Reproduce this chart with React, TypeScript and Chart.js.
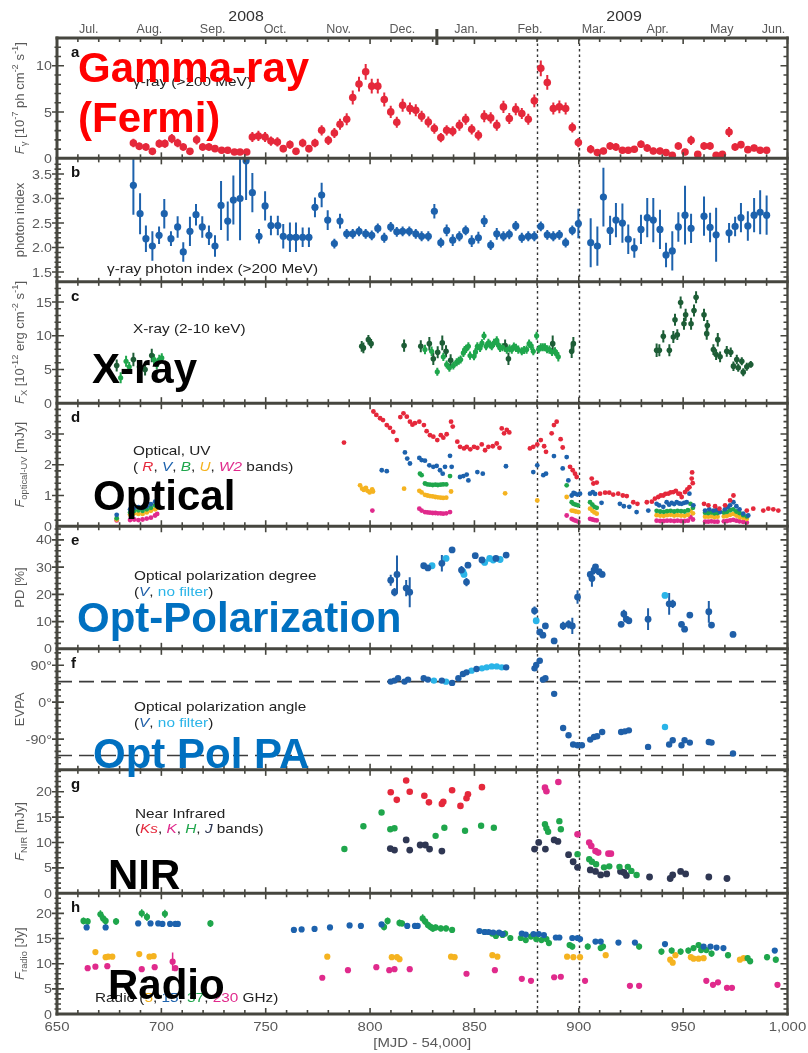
import { useEffect, useRef } from 'react';
import { Chart, registerables } from 'chart.js';

Chart.register(...registerables);

type Pt = [number, number, number?];

// ---------------- data: [MJD - 54000, value, error] ----------------

// a: gamma-ray flux (>200 MeV) [1e-7 ph cm^-2 s^-1]
const gammaFlux: Pt[] = [
  [686.6, 1.66, 0.45], [689.4, 1.3, 0.4], [692.6, 1.22, 0.4], [695.7, 0.76, 0.35], [699.0, 1.59, 0.45],
  [701.7, 1.59, 0.45], [705.0, 2.13, 0.5], [707.8, 1.66, 0.45], [710.5, 1.22, 0.4], [713.7, 0.76, 0.35],
  [716.9, 2.0, 0.5], [719.8, 1.22, 0.4], [722.8, 1.22, 0.4], [725.7, 1.05, 0.35], [728.9, 0.87, 0.35],
  [731.8, 0.87, 0.35], [735.0, 0.68, 0.3], [737.7, 0.68, 0.3], [740.9, 0.68, 0.3], [743.6, 2.31, 0.55],
  [746.5, 2.42, 0.55], [749.7, 2.31, 0.55], [752.5, 1.87, 0.5], [755.6, 1.77, 0.5], [758.4, 1.05, 0.4],
  [761.6, 1.48, 0.45], [764.5, 0.76, 0.35], [767.7, 1.66, 0.45], [770.7, 1.05, 0.4], [773.6, 1.66, 0.45],
  [776.8, 3.03, 0.55], [780.0, 1.95, 0.5], [782.9, 2.74, 0.55], [785.6, 3.68, 0.6], [788.8, 4.23, 0.65],
  [791.7, 6.58, 0.75], [794.7, 8.02, 0.8], [797.9, 9.35, 0.85], [800.8, 7.8, 0.8], [803.7, 7.8, 0.8],
  [806.8, 6.36, 0.75], [809.9, 5.02, 0.65], [812.8, 3.9, 0.6], [815.6, 5.74, 0.7], [819.1, 5.38, 0.65],
  [821.9, 5.2, 0.65], [824.7, 4.55, 0.6], [827.9, 3.93, 0.6], [830.8, 3.22, 0.55], [833.9, 2.24, 0.5],
  [836.7, 3.03, 0.55], [839.6, 2.93, 0.55], [842.8, 3.58, 0.6], [845.8, 4.23, 0.6], [848.7, 3.14, 0.55],
  [851.9, 2.49, 0.55], [854.7, 4.55, 0.65], [857.8, 4.37, 0.6], [860.7, 3.58, 0.6], [863.9, 5.56, 0.65],
  [866.7, 4.3, 0.6], [869.8, 5.31, 0.65], [872.7, 4.84, 0.6], [875.8, 4.23, 0.6], [878.7, 6.21, 0.7],
  [881.8, 9.72, 0.85], [884.9, 8.2, 0.8], [887.8, 5.38, 0.65], [890.7, 5.56, 0.7], [893.7, 5.38, 0.65],
  [896.9, 3.33, 0.55], [899.8, 1.7, 0.5], [905.7, 0.98, 0.45], [908.9, 0.62, 0.35], [911.8, 0.79, 0.35],
  [915.0, 1.33, 0.4], [917.8, 1.22, 0.4], [920.9, 0.87, 0.35], [923.7, 0.87, 0.35], [926.6, 0.98, 0.35],
  [929.8, 1.52, 0.4], [932.8, 1.12, 0.4], [935.7, 0.79, 0.35], [938.9, 0.79, 0.35], [941.8, 0.62, 0.35],
  [944.8, 0.33, 0.3], [947.7, 1.33, 0.4], [950.9, 0.68, 0.35], [953.8, 1.95, 0.5], [957.0, 0.43, 0.3],
  [960.0, 1.33, 0.4], [962.9, 1.33, 0.4], [965.8, 0.33, 0.3], [968.8, 0.43, 0.3], [972.0, 2.85, 0.55],
  [974.9, 1.22, 0.4], [977.7, 1.48, 0.4], [981.0, 0.94, 0.35], [984.0, 1.12, 0.35], [986.9, 0.87, 0.35],
  [990.0, 0.87, 0.35],
];

// b: gamma-ray photon index (>200 MeV)
const gammaIndex: Pt[] = [
  [686.6, 3.27, 0.6], [689.8, 2.69, 0.42], [692.6, 2.18, 0.27], [695.7, 2.03, 0.3], [698.9, 2.25, 0.18],
  [701.4, 2.69, 0.3], [704.6, 2.18, 0.15], [707.8, 2.42, 0.22], [710.5, 1.91, 0.2], [713.7, 2.33, 0.3],
  [716.6, 2.67, 0.22], [719.6, 2.42, 0.22], [722.8, 2.25, 0.2], [725.7, 2.03, 0.22], [728.6, 2.86, 0.5],
  [731.8, 2.54, 0.4], [734.5, 2.97, 0.5], [737.7, 3.0, 0.85], [740.6, 3.77, 0.8], [743.6, 3.12, 0.4],
  [746.8, 2.23, 0.15], [749.7, 2.85, 0.3], [752.5, 2.45, 0.2], [755.8, 2.45, 0.2], [758.4, 2.23, 0.25],
  [761.6, 2.21, 0.3], [764.5, 2.21, 0.3], [767.7, 2.21, 0.2], [770.7, 2.21, 0.2], [773.6, 2.82, 0.2],
  [776.8, 3.07, 0.25], [779.7, 2.56, 0.2], [782.9, 2.08, 0.1], [785.6, 2.54, 0.15], [788.8, 2.28, 0.1],
  [791.7, 2.28, 0.1], [794.7, 2.33, 0.1], [797.9, 2.28, 0.1], [800.8, 2.25, 0.1], [803.7, 2.39, 0.1],
  [806.8, 2.2, 0.1], [809.9, 2.42, 0.1], [812.8, 2.32, 0.1], [815.6, 2.33, 0.1], [818.8, 2.33, 0.1],
  [821.9, 2.28, 0.1], [824.7, 2.23, 0.1], [827.9, 2.23, 0.1], [830.8, 2.74, 0.15], [833.9, 2.1, 0.1],
  [836.7, 2.35, 0.12], [839.6, 2.15, 0.12], [842.8, 2.23, 0.1], [845.8, 2.35, 0.1], [848.7, 2.13, 0.12],
  [851.9, 2.2, 0.12], [854.7, 2.54, 0.12], [857.8, 2.05, 0.1], [860.7, 2.28, 0.12], [863.9, 2.23, 0.1],
  [866.7, 2.27, 0.1], [869.8, 2.44, 0.1], [872.7, 2.2, 0.1], [875.8, 2.23, 0.1], [878.7, 2.23, 0.1],
  [881.8, 2.43, 0.1], [884.9, 2.26, 0.1], [887.8, 2.23, 0.1], [890.7, 2.26, 0.1], [893.7, 2.1, 0.1],
  [896.9, 2.35, 0.1], [899.8, 2.49, 0.3], [905.7, 2.1, 0.5], [908.9, 2.03, 0.4], [911.8, 3.03, 0.6],
  [915.0, 2.35, 0.3], [917.8, 2.56, 0.35], [920.9, 2.5, 0.4], [923.7, 2.17, 0.3], [926.6, 1.99, 0.2],
  [929.8, 2.37, 0.3], [932.8, 2.61, 0.4], [935.7, 2.56, 0.45], [938.9, 2.37, 0.4], [941.8, 1.85, 0.25],
  [944.8, 1.93, 0.4], [947.7, 2.42, 0.3], [950.9, 2.66, 0.6], [953.8, 2.39, 0.3], [960.0, 2.64, 0.4],
  [962.9, 2.41, 0.3], [965.8, 2.26, 0.55], [972.0, 2.3, 0.2], [974.9, 2.43, 0.2], [977.7, 2.61, 0.3],
  [981.0, 2.44, 0.3], [984.0, 2.66, 0.35], [986.9, 2.72, 0.45], [990.0, 2.66, 0.4],
];

// c: X-ray flux (2-10 keV) [1e-12 erg cm^-2 s^-1], two instruments
const xrayDark: Pt[] = [
  [678.6, 5.59, 0.9], [686.6, 6.47, 1.0], [692.2, 5.0, 0.9], [695.4, 7.06, 1.0], [796.0, 8.44, 0.8],
  [796.8, 8.2, 0.8], [799.2, 9.42, 0.7], [800.5, 8.83, 0.7], [816.3, 8.54, 0.9], [824.3, 8.44, 0.9],
  [828.4, 8.83, 1.0], [830.3, 6.58, 0.9], [832.4, 7.55, 0.9], [834.6, 8.94, 1.1], [836.4, 7.7, 0.9],
  [838.6, 6.37, 0.9], [864.7, 8.54, 0.9], [866.3, 6.58, 0.9], [887.5, 8.83, 1.2], [896.6, 7.7, 1.0],
  [897.4, 8.83, 1.0], [937.3, 7.85, 1.0], [938.6, 7.85, 0.9], [940.5, 9.91, 0.9], [943.4, 7.85, 0.9],
  [945.3, 9.82, 0.9], [946.1, 12.37, 0.9], [947.2, 10.16, 0.8], [948.8, 14.93, 0.9], [950.4, 11.78, 0.9],
  [951.2, 13.1, 0.9], [953.8, 11.78, 0.9], [955.2, 13.75, 0.9], [956.2, 15.72, 0.9], [960.0, 13.1, 0.9],
  [961.3, 10.31, 0.9], [961.6, 11.53, 0.8], [964.5, 7.95, 0.8], [965.8, 7.21, 0.8], [966.6, 9.42, 1.0],
  [967.7, 6.87, 0.8], [970.9, 7.7, 0.8], [972.8, 7.55, 0.7], [974.1, 5.49, 0.7], [975.7, 6.47, 0.7],
  [976.4, 5.25, 0.6], [978.1, 6.22, 0.6], [978.8, 4.6, 0.6], [980.5, 5.4, 0.6], [982.4, 5.74, 0.5],
];
const xrayLight: Pt[] = [
  [680.5, 3.77, 0.8], [683.1, 6.22, 0.8], [684.6, 5.4, 0.7], [689.4, 5.4, 0.8], [696.5, 6.47, 0.8],
  [697.8, 5.74, 0.7], [699.0, 6.47, 0.7], [700.2, 6.72, 0.7], [826.3, 7.95, 0.7], [829.5, 7.7, 0.7],
  [832.2, 4.66, 0.6], [835.1, 6.87, 0.6], [836.7, 5.74, 0.6], [838.0, 5.25, 0.6], [839.9, 5.59, 0.6],
  [841.5, 6.08, 0.6], [842.5, 6.3, 0.6], [843.4, 6.47, 0.6], [844.7, 7.46, 0.6], [845.3, 7.9, 0.6],
  [846.0, 8.05, 0.6], [847.1, 8.44, 0.6], [847.9, 7.06, 0.6], [849.8, 6.96, 0.6], [850.5, 7.6, 0.6],
  [851.4, 8.44, 0.6], [852.7, 8.2, 0.6], [853.6, 8.9, 0.6], [854.6, 10.0, 0.6], [855.6, 8.44, 0.6],
  [856.7, 8.94, 0.6], [857.5, 8.7, 0.6], [858.3, 8.44, 0.6], [859.4, 8.94, 0.6], [860.7, 9.32, 0.6],
  [861.5, 8.6, 0.6], [862.3, 8.2, 0.6], [863.5, 8.3, 0.6], [865.5, 7.95, 0.6], [866.8, 8.1, 0.6],
  [867.9, 7.95, 0.6], [868.9, 8.4, 0.6], [869.9, 8.2, 0.6], [871.0, 7.95, 0.6], [872.7, 7.7, 0.6],
  [873.8, 7.9, 0.6], [875.0, 7.95, 0.6], [876.2, 8.83, 0.6], [877.2, 8.5, 0.6], [878.2, 7.7, 0.6],
  [879.8, 10.0, 0.6], [880.8, 8.0, 0.6], [881.8, 8.29, 0.6], [882.8, 8.3, 0.6], [883.8, 8.29, 0.6],
  [884.8, 8.0, 0.6], [885.9, 7.95, 0.6], [887.2, 7.6, 0.6], [888.6, 7.7, 0.6], [889.4, 7.3, 0.6],
  [890.2, 6.87, 0.7],
];

// d: optical / UV flux densities [mJy]
const optR: Pt[] = [
  [787.5, 2.72], [801.6, 3.73], [803.0, 3.62], [804.8, 3.51], [806.2, 3.45], [808.0, 3.29], [809.5, 3.2],
  [811.1, 3.07], [812.8, 2.8], [814.5, 3.55], [816.0, 3.67], [817.6, 3.56], [819.1, 3.4], [820.3, 3.3],
  [821.5, 3.35], [823.6, 3.4], [825.8, 3.29], [827.1, 3.09], [828.7, 2.96], [830.3, 2.91], [832.2, 2.8],
  [833.9, 2.96], [835.1, 2.88], [836.7, 2.99], [838.8, 3.4], [839.6, 3.24], [841.8, 2.75], [843.1, 2.58],
  [845.0, 2.53], [846.3, 2.58], [848.0, 2.5], [849.8, 2.58], [851.4, 2.55], [853.5, 2.66], [855.1, 2.47],
  [856.7, 2.58], [858.8, 2.6], [860.7, 2.69], [862.0, 2.55], [863.1, 3.18], [864.2, 3.02], [865.5, 3.13],
  [866.7, 3.05], [876.6, 2.53], [878.2, 2.58], [880.1, 2.66], [881.8, 2.8], [883.4, 2.6], [884.3, 2.42],
  [887.0, 3.02], [888.1, 3.29], [889.4, 3.4], [891.3, 2.83], [892.3, 2.56], [895.8, 1.93], [897.1, 1.82],
  [898.2, 1.71], [899.0, 1.6], [906.2, 1.55], [907.0, 1.39], [908.6, 1.42], [910.2, 1.06], [912.6, 1.09],
  [914.6, 1.09], [916.5, 1.03], [918.9, 1.06], [921.1, 1.0], [923.0, 0.98], [926.1, 0.78], [928.1, 0.73],
  [932.6, 0.78], [935.0, 0.8], [936.5, 0.9], [938.1, 0.95], [939.3, 1.0], [940.5, 1.0], [941.5, 1.05],
  [942.9, 1.06], [944.0, 1.1], [945.3, 1.11], [946.5, 1.15], [947.7, 1.06], [948.5, 1.05], [949.3, 0.95],
  [950.9, 1.11], [952.0, 1.2], [953.0, 1.27], [954.1, 1.55], [954.3, 1.75], [954.6, 1.4], [960.0, 0.73],
  [962.1, 0.68], [965.3, 0.65], [967.4, 0.57], [970.1, 0.68], [972.5, 0.84], [974.1, 1.0], [980.5, 0.51],
  [983.6, 0.57], [988.4, 0.51], [990.8, 0.57], [993.2, 0.55], [995.6, 0.51],
];
const optV: Pt[] = [
  [678.6, 0.37], [685.0, 0.55], [687.0, 0.6], [689.0, 0.62], [691.0, 0.6], [693.0, 0.65], [695.0, 0.72],
  [697.0, 0.8], [698.0, 0.85], [805.6, 1.82], [808.0, 1.79], [816.7, 2.4], [817.8, 2.2], [819.1, 2.04],
  [823.6, 2.22], [824.7, 2.15], [826.3, 2.13], [828.4, 1.98], [830.3, 1.93], [831.9, 1.96], [833.5, 1.82],
  [834.8, 1.71], [835.9, 1.93], [838.3, 2.29], [839.1, 1.93], [843.1, 1.6], [844.7, 1.63], [846.3, 1.68],
  [847.1, 1.49], [851.4, 1.76], [854.0, 1.71], [865.1, 1.95], [878.2, 1.76], [880.1, 1.98], [883.0, 1.66],
  [884.3, 1.71], [888.1, 2.28], [892.3, 1.88], [894.2, 2.25], [895.0, 1.49], [896.6, 1.0], [897.5, 1.08],
  [898.2, 1.06], [899.3, 1.03], [900.6, 1.06], [905.4, 1.06], [906.7, 1.11], [907.8, 1.05], [910.9, 0.76],
  [919.7, 0.73], [921.6, 0.65], [924.2, 0.63], [927.7, 0.46], [933.3, 0.51], [937.3, 0.73], [938.5, 0.68],
  [940.5, 0.63], [942.1, 0.78], [943.3, 0.7], [944.5, 0.76], [945.7, 0.72], [946.9, 0.78], [948.1, 0.74],
  [949.3, 0.73], [950.5, 0.76], [951.7, 0.78], [953.0, 1.06], [954.9, 0.68], [960.5, 0.51], [962.5, 0.55],
  [964.5, 0.51], [966.0, 0.53], [967.7, 0.46], [970.0, 0.55], [971.3, 0.62], [972.5, 0.68], [974.1, 0.78],
  [975.5, 0.65], [977.0, 0.55], [978.8, 0.41], [981.2, 0.35],
];
const optB: Pt[] = [
  [678.6, 0.26], [685.0, 0.45], [687.0, 0.5], [689.0, 0.52], [691.0, 0.5], [693.0, 0.55], [695.0, 0.6],
  [697.0, 0.68], [698.0, 0.72], [823.9, 1.71], [824.7, 1.66], [826.3, 1.39], [827.5, 1.36], [828.7, 1.35],
  [830.0, 1.34], [831.3, 1.35], [832.5, 1.34], [833.8, 1.35], [835.0, 1.36], [836.5, 1.36], [838.3, 1.63],
  [894.2, 1.33], [896.6, 0.78], [897.4, 0.73], [898.5, 0.7], [899.6, 0.68], [905.4, 0.78], [906.5, 0.7],
  [907.5, 0.63], [908.6, 0.6], [937.3, 0.5], [939.0, 0.48], [940.7, 0.47], [942.3, 0.49], [944.0, 0.5],
  [945.7, 0.48], [947.3, 0.5], [949.0, 0.49], [950.7, 0.48], [952.3, 0.52], [953.5, 0.73], [954.7, 0.6],
  [960.5, 0.44], [962.0, 0.43], [963.5, 0.45], [965.0, 0.42], [966.5, 0.43], [969.5, 0.45], [971.0, 0.47],
  [972.5, 0.52], [974.0, 0.55], [975.5, 0.48], [977.0, 0.43], [978.8, 0.36], [980.5, 0.32],
];
const optU: Pt[] = [
  [678.6, 0.22], [685.0, 0.38], [687.0, 0.42], [689.0, 0.4], [691.0, 0.4], [693.0, 0.45], [695.0, 0.5],
  [697.0, 0.55], [698.0, 0.6], [795.2, 1.33], [796.2, 1.22], [797.0, 1.18], [798.0, 1.25], [798.8, 1.15],
  [799.8, 1.1], [801.0, 1.2], [801.4, 1.13], [816.3, 1.22], [823.6, 1.15], [824.7, 1.1], [826.3, 1.02],
  [827.5, 1.0], [828.7, 0.98], [830.0, 0.97], [831.3, 0.95], [832.5, 0.94], [833.8, 0.93], [835.0, 0.92],
  [836.5, 0.93], [838.8, 1.13], [864.7, 1.07], [880.1, 0.84], [894.2, 0.95], [896.6, 0.51], [897.5, 0.5],
  [898.5, 0.48], [899.8, 0.46], [905.4, 0.57], [906.5, 0.5], [907.5, 0.45], [908.6, 0.41], [937.3, 0.36],
  [939.0, 0.35], [940.7, 0.34], [942.3, 0.36], [944.0, 0.37], [945.7, 0.35], [947.3, 0.36], [949.0, 0.35],
  [950.7, 0.34], [952.3, 0.37], [953.5, 0.5], [954.7, 0.42], [960.5, 0.31], [962.0, 0.31], [963.5, 0.32],
  [965.0, 0.3], [966.5, 0.31], [969.5, 0.32], [971.0, 0.34], [972.5, 0.37], [974.0, 0.4], [975.5, 0.35],
  [977.0, 0.3], [978.8, 0.27], [980.5, 0.24],
];
const optW2: Pt[] = [
  [678.6, 0.19], [685.0, 0.2], [687.0, 0.22], [689.0, 0.2], [691.0, 0.22], [693.0, 0.25], [695.0, 0.28],
  [697.0, 0.35], [698.0, 0.4], [801.1, 0.51], [823.6, 0.57], [824.7, 0.51], [826.3, 0.46], [827.5, 0.45],
  [828.7, 0.44], [830.0, 0.43], [831.3, 0.43], [832.5, 0.42], [833.8, 0.42], [835.0, 0.41], [836.5, 0.42],
  [838.3, 0.46], [894.2, 0.35], [896.6, 0.24], [897.5, 0.21], [898.5, 0.18], [899.8, 0.15], [905.4, 0.24],
  [906.5, 0.22], [907.5, 0.2], [908.6, 0.19], [937.3, 0.18], [939.0, 0.17], [940.7, 0.17], [942.3, 0.18],
  [944.0, 0.18], [945.7, 0.17], [947.3, 0.18], [949.0, 0.17], [950.7, 0.17], [952.3, 0.18], [953.5, 0.3],
  [954.7, 0.22], [960.5, 0.15], [962.0, 0.15], [963.5, 0.16], [965.0, 0.15], [966.5, 0.15], [969.5, 0.16],
  [971.0, 0.17], [972.5, 0.19], [974.0, 0.21], [975.5, 0.18], [977.0, 0.16], [978.8, 0.14], [980.5, 0.12],
];

// e: optical polarization degree [%]
const pdV: Pt[] = [
  [809.9, 25.2, 2], [811.7, 20.8, 1.5], [812.9, 27.3, 7], [817.3, 22.3, 3], [819.0, 20.8, 5.5],
  [825.7, 30.5, 1], [827.7, 29.7, 1], [834.4, 31.4, 3], [839.3, 36.3, 1], [843.8, 28.9, 1.5],
  [846.2, 24.5, 1.5], [846.9, 30.7, 1], [850.4, 34.2, 1], [853.6, 32.6, 1], [860.3, 33.2, 1],
  [865.2, 34.4, 1], [878.8, 14.0, 1.5], [881.3, 6.2, 1], [882.8, 5.0, 1], [884.0, 8.4, 1],
  [888.2, 2.9, 1], [892.5, 8.4, 1.5], [895.1, 9.0, 1.5], [896.9, 8.4, 3], [899.4, 19.0, 2.5],
  [905.5, 27.3, 1], [906.3, 25.8, 3], [907.3, 28.9, 1.5], [908.0, 30.1, 1], [909.7, 28.3, 1],
  [911.2, 27.3, 1], [920.3, 9.0, 1], [921.6, 12.8, 1.5], [922.8, 10.9, 1], [924.0, 10.3, 1],
  [933.2, 10.9, 4], [943.3, 16.5, 4], [945.0, 16.5, 1.5], [949.2, 9.0, 1], [950.7, 7.2, 1],
  [953.2, 12.4, 1], [962.3, 13.6, 4], [963.6, 8.7, 1], [973.9, 5.3, 1],
];
const pdNoFilter: Pt[] = [
  [829.7, 30.5, 1], [836.4, 33.2, 1], [844.5, 28.3, 1], [845.0, 27.3, 1], [854.9, 31.7, 1],
  [857.3, 33.2, 1], [859.0, 32.6, 1], [862.3, 32.8, 1], [879.6, 10.3, 1], [941.3, 19.6, 1],
];

// f: optical polarization angle [deg]
const evpaV: Pt[] = [
  [809.9, 50.1], [811.7, 52.5], [813.4, 58.2], [816.5, 50.1], [818.2, 55.0], [825.7, 58.2], [827.7, 55.0],
  [834.4, 52.5], [839.3, 46.9], [842.3, 58.2], [844.5, 68.7], [846.2, 72.7], [851.0, 80.8], [865.2, 84.8],
  [878.8, 82.4], [879.6, 90.5], [881.3, 101.0], [882.8, 55.0], [884.0, 58.2], [888.2, 20.2], [892.5, -63.0],
  [895.1, -80.7], [897.3, -103.3], [899.4, -105.0], [901.5, -105.0], [905.5, -91.2], [907.3, -84.8],
  [908.8, -83.2], [911.2, -72.7], [920.3, -72.7], [922.1, -71.1], [924.0, -68.7], [933.2, -109.0],
  [943.3, -103.3], [945.0, -92.8], [949.2, -105.0], [950.7, -92.8], [953.2, -98.5], [962.3, -96.9],
  [963.6, -98.5], [973.9, -125.1],
];
const evpaNoFilter: Pt[] = [
  [830.6, 52.5], [836.4, 50.0], [848.6, 76.8], [853.6, 82.4], [855.9, 84.8], [858.3, 87.2], [860.7, 87.2],
  [863.1, 84.8], [941.3, -60.6],
];

// g: near-infrared flux densities [mJy]
const nirKs: Pt[] = [
  [809.9, 19.9], [812.8, 18.4], [817.3, 22.2], [819.0, 20.0], [826.0, 19.2], [828.2, 17.9], [834.4, 17.6],
  [835.1, 18.0], [839.3, 20.3], [843.3, 17.2], [846.2, 18.7], [846.9, 19.5], [853.6, 20.9],
];
const nirK: Pt[] = [
  [883.8, 20.8], [884.5, 20.1], [890.2, 21.9], [899.4, 11.6], [905.0, 10.0], [906.0, 9.3], [908.0, 8.3],
  [909.3, 8.0], [914.2, 7.8], [915.4, 7.8],
];
const nirH: Pt[] = [
  [787.7, 8.7], [796.8, 13.2], [805.5, 15.9], [809.7, 12.6], [811.7, 12.8], [831.4, 11.3], [835.6, 12.9],
  [845.5, 12.3], [853.2, 13.3], [859.3, 12.9], [883.8, 13.6], [884.5, 12.8], [885.3, 12.1], [890.7, 14.2],
  [891.4, 12.6], [899.4, 7.7], [905.0, 6.7], [906.3, 6.2], [908.3, 5.7], [912.1, 5.1], [914.6, 5.3],
  [919.5, 5.2], [923.5, 5.2], [925.2, 4.4], [927.7, 3.6],
];
const nirJ: Pt[] = [
  [809.7, 8.8], [811.7, 8.5], [817.3, 10.5], [819.0, 8.5], [824.0, 9.5], [826.5, 9.5], [828.5, 8.7],
  [834.4, 8.3], [878.8, 8.7], [880.8, 10.0], [884.0, 8.7], [888.2, 10.5], [890.0, 10.2], [895.1, 7.6],
  [897.3, 6.2], [899.4, 5.1], [905.5, 4.6], [908.0, 4.3], [910.5, 3.6], [913.4, 3.8], [920.0, 4.3],
  [921.6, 4.1], [922.8, 3.5], [933.9, 3.2], [943.8, 2.9], [945.0, 3.6], [948.8, 4.3], [951.2, 3.8],
  [962.3, 3.2], [971.0, 2.9],
];

// h: radio flux densities [Jy]
const radio37: Pt[] = [
  [662.7, 18.5, 0.7], [664.7, 18.4, 0.7], [670.8, 19.8, 0.8], [672.1, 19.0, 0.8], [673.3, 18.5, 0.8],
  [678.3, 18.4, 0.7], [690.6, 20.0, 0.8], [693.1, 19.3, 0.8], [701.7, 19.9, 0.8], [723.5, 18.0, 0.7],
  [806.7, 17.3, 0.7], [808.4, 18.5, 0.7], [814.1, 18.1, 0.7], [815.3, 18.0, 0.6], [825.2, 19.0, 0.8],
  [826.4, 18.4, 0.7], [827.7, 17.7, 0.7], [829.0, 17.3, 0.7], [830.1, 17.0, 0.7], [831.4, 17.2, 0.6],
  [833.9, 17.0, 0.6], [836.4, 17.0, 0.6], [839.3, 16.7, 0.6], [854.9, 16.3, 0.6], [858.5, 16.0, 0.6],
  [860.3, 15.5, 0.6], [861.8, 16.1, 0.6], [863.5, 15.7, 0.6], [864.7, 16.0, 0.6], [867.2, 15.1, 0.6],
  [872.2, 15.1, 0.6], [874.6, 14.7, 0.6], [877.1, 15.4, 0.6], [879.6, 14.9, 0.6], [882.1, 14.7, 0.6],
  [884.5, 14.9, 0.6], [885.7, 14.1, 0.6], [895.6, 13.7, 0.6], [896.9, 13.4, 0.6], [904.3, 13.4, 0.6],
  [910.5, 13.1, 0.6], [911.6, 13.4, 0.6], [928.9, 13.4, 0.6], [939.6, 12.4, 0.6], [944.5, 12.6, 0.6],
  [948.8, 12.4, 0.6], [952.5, 12.6, 0.6], [955.0, 13.1, 0.6], [957.4, 13.7, 0.6], [958.6, 12.7, 0.6],
  [961.1, 12.7, 0.6], [963.6, 12.0, 0.6], [971.5, 11.7, 0.6], [980.9, 11.1, 0.6], [982.1, 10.5, 0.6],
  [990.2, 11.3, 0.6], [994.4, 10.8, 0.6],
];
const radio15: Pt[] = [
  [664.2, 17.2], [673.3, 17.2], [688.9, 18.0], [694.8, 18.0], [698.5, 18.0], [700.5, 17.9], [704.2, 17.9],
  [706.7, 17.9], [707.9, 17.9], [763.5, 16.7], [767.2, 16.8], [773.4, 16.9], [780.8, 17.2], [790.2, 17.6],
  [795.6, 17.5], [805.5, 17.8], [817.8, 17.5], [821.5, 17.5], [822.8, 17.5], [852.4, 16.5], [854.9, 16.3],
  [856.8, 16.3], [859.0, 16.2], [861.8, 16.2], [863.5, 15.9], [872.7, 16.0], [874.6, 15.8], [878.3, 15.9],
  [880.8, 15.9], [883.3, 15.7], [889.0, 15.2], [890.7, 15.2], [896.9, 15.1], [899.4, 15.1], [900.6, 14.9],
  [908.0, 14.4], [910.5, 14.4], [919.0, 14.2], [926.9, 14.2], [941.3, 13.9], [959.8, 13.4], [963.1, 13.4],
  [966.0, 13.2], [969.3, 13.1], [993.9, 12.6],
];
const radio5: Pt[] = [
  [668.4, 12.3], [673.3, 11.3], [674.5, 11.4], [676.5, 11.4], [689.4, 11.9], [694.3, 11.4], [696.3, 11.5],
  [779.5, 11.4], [810.4, 11.3], [812.9, 11.3], [814.1, 10.9], [838.8, 11.4], [840.5, 11.3], [858.6, 11.7],
  [861.0, 11.4], [894.4, 11.4], [897.4, 11.3], [900.6, 11.3], [912.9, 11.7], [943.8, 10.8], [945.0, 10.2],
  [946.3, 11.7], [953.7, 11.3], [955.0, 11.0], [957.4, 11.0], [959.8, 11.1], [977.2, 10.8], [979.0, 11.1],
];
const radio230: Pt[] = [
  [664.7, 9.1], [668.4, 9.4], [674.1, 9.5], [690.6, 8.9], [696.8, 9.3], [705.4, 10.4, 1.8], [706.7, 9.1],
  [777.1, 7.2], [789.4, 8.7], [803.0, 9.3], [809.2, 8.7], [811.7, 8.9], [819.0, 8.9], [846.2, 8.0],
  [859.8, 8.7], [872.7, 7.0], [877.1, 6.6], [888.2, 7.3], [891.4, 7.4], [903.0, 6.6], [924.5, 5.6],
  [928.9, 5.6], [961.1, 6.6], [964.3, 5.8], [966.7, 6.3], [971.0, 5.2], [973.4, 5.2], [995.2, 5.8],
];

// ---------------- axis labels ----------------
const xTickValues = [650, 700, 750, 800, 850, 900, 950, 1000];
const xTickLabels = ['650', '700', '750', '800', '850', '900', '950', '1,000'];
const monthNames = ['Jul.', 'Aug.', 'Sep.', 'Oct.', 'Nov.', 'Dec.', 'Jan.', 'Feb.', 'Mar.', 'Apr.', 'May', 'Jun.'];
const monthCenters = [665.2, 694.3, 724.6, 754.5, 784.9, 815.5, 846.0, 876.6, 907.2, 937.8, 968.5, 993.3];
const yearNames = ['2008', '2009'];
const yearCenters = [740.6, 921.7];
const yearBoundary = 832;
const flareMarks = [880, 900];
const evpaRefLines = [50, -130];

// ---------------- styling ----------------
const RED = '#e5283b';
const BLUE = '#1d62ad';
const DKGREEN = '#1d5d36';
const GREEN = '#1fa64c';
const YELLOW = '#f5b320';
const MAGENTA = '#e02a8c';
const NAVY = '#2f3753';
const CYAN = '#2ab4e8';
const PD_BLUE = '#1f5fa8';
const SLIDE_BLUE = '#0070c0';
const FRAME = '#46463f';
const GREY = '#595959';
const INK = '#222222';
const FONT = '"Liberation Sans", Arial, Helvetica, sans-serif';

type Run = { t: string; c?: string; it?: boolean; s?: 'sub' | 'sup' };

type Panel = {
  id: string; letter: string; min: number; max: number; weight: number;
  major: number[]; labels: string[]; minor: number; title: Run[];
};

const PANELS: Panel[] = [
  { id: 'ya', letter: 'a', min: 0, max: 13, weight: 120.3, major: [0, 5, 10], labels: ['0', '5', '10'], minor: 1,
    title: [{ t: 'F', it: true }, { t: 'γ', s: 'sub' }, { t: ' [10' }, { t: '-7', s: 'sup' }, { t: ' ph cm' }, { t: '-2', s: 'sup' }, { t: ' s' }, { t: '-1', s: 'sup' }, { t: ']' }] },
  { id: 'yb', letter: 'b', min: 1.3, max: 3.82, weight: 123.4, major: [1.5, 2, 2.5, 3, 3.5], labels: ['1.5', '2.0', '2.5', '3.0', '3.5'], minor: 0.1,
    title: [{ t: 'photon index' }] },
  { id: 'yc', letter: 'c', min: 0, max: 18, weight: 121.3, major: [0, 5, 10, 15], labels: ['0', '5', '10', '15'], minor: 1,
    title: [{ t: 'F', it: true }, { t: 'X', s: 'sub' }, { t: ' [10' }, { t: '-12', s: 'sup' }, { t: ' erg cm' }, { t: '-2', s: 'sup' }, { t: ' s' }, { t: '-1', s: 'sup' }, { t: ']' }] },
  { id: 'yd', letter: 'd', min: 0, max: 4, weight: 123, major: [0, 1, 2, 3], labels: ['0', '1', '2', '3'], minor: 0.2,
    title: [{ t: 'F', it: true }, { t: 'optical-UV', s: 'sub' }, { t: ' [mJy]' }] },
  { id: 'ye', letter: 'e', min: 0, max: 45, weight: 122.5, major: [0, 10, 20, 30, 40], labels: ['0', '10', '20', '30', '40'], minor: 2,
    title: [{ t: 'PD [%]' }] },
  { id: 'yf', letter: 'f', min: -165, max: 130, weight: 121, major: [90, 0, -90], labels: ['90°', '0°', '-90°'], minor: 15,
    title: [{ t: 'EVPA' }] },
  { id: 'yg', letter: 'g', min: 0, max: 24.3, weight: 123.3, major: [0, 5, 10, 15, 20], labels: ['0', '5', '10', '15', '20'], minor: 1,
    title: [{ t: 'F', it: true }, { t: 'NIR', s: 'sub' }, { t: ' [mJy]' }] },
  { id: 'yh', letter: 'h', min: 0, max: 24, weight: 120.7, major: [0, 5, 10, 15, 20], labels: ['0', '5', '10', '15', '20'], minor: 1,
    title: [{ t: 'F', it: true }, { t: 'radio', s: 'sub' }, { t: ' [Jy]' }] },
];

type Series = { panel: string; data: Pt[]; color: string; r: number; ew?: number };

const SERIES: Series[] = [
  { panel: 'ya', data: gammaFlux, color: RED, r: 3.8, ew: 2 },
  { panel: 'yb', data: gammaIndex, color: BLUE, r: 3.6, ew: 2 },
  { panel: 'yc', data: xrayLight, color: GREEN, r: 2.6, ew: 2 },
  { panel: 'yc', data: xrayDark, color: DKGREEN, r: 2.8, ew: 2 },
  { panel: 'yd', data: optR, color: RED, r: 2.4 },
  { panel: 'yd', data: optV, color: BLUE, r: 2.4 },
  { panel: 'yd', data: optB, color: GREEN, r: 2.4 },
  { panel: 'yd', data: optU, color: YELLOW, r: 2.4 },
  { panel: 'yd', data: optW2, color: MAGENTA, r: 2.4 },
  { panel: 'ye', data: pdV, color: PD_BLUE, r: 3.4, ew: 2 },
  { panel: 'ye', data: pdNoFilter, color: CYAN, r: 3.4, ew: 2 },
  { panel: 'yf', data: evpaV, color: PD_BLUE, r: 3.2 },
  { panel: 'yf', data: evpaNoFilter, color: CYAN, r: 3.2 },
  { panel: 'yg', data: nirH, color: GREEN, r: 3.2 },
  { panel: 'yg', data: nirJ, color: NAVY, r: 3.4 },
  { panel: 'yg', data: nirKs, color: RED, r: 3.3 },
  { panel: 'yg', data: nirK, color: MAGENTA, r: 3.3 },
  { panel: 'yh', data: radio15, color: BLUE, r: 3.1, ew: 1.5 },
  { panel: 'yh', data: radio37, color: GREEN, r: 3.1, ew: 1.5 },
  { panel: 'yh', data: radio5, color: YELLOW, r: 3.1, ew: 1.5 },
  { panel: 'yh', data: radio230, color: MAGENTA, r: 3.1, ew: 1.5 },
];

// ---------------- text helpers ----------------
function runFont(r: Run, size: number, weight: string) {
  const sz = r.s ? size * 0.72 : size;
  return `${r.it ? 'italic ' : ''}${weight} ${sz}px ${FONT}`;
}

function drawRuns(
  ctx: CanvasRenderingContext2D, runs: Run[], x: number, y: number, size: number,
  opts: { sx?: number; align?: 'left' | 'center' | 'right'; color?: string; weight?: string } = {},
) {
  const { sx = 1, align = 'left', color = INK, weight = 'normal' } = opts;
  let w = 0;
  for (const r of runs) {
    ctx.font = runFont(r, size, weight);
    w += ctx.measureText(r.t).width;
  }
  ctx.save();
  ctx.translate(x, y);
  ctx.scale(sx, 1);
  ctx.textAlign = 'left';
  ctx.textBaseline = 'alphabetic';
  let cx = align === 'center' ? -w / 2 : align === 'right' ? -w : 0;
  for (const r of runs) {
    ctx.font = runFont(r, size, weight);
    ctx.fillStyle = r.c || color;
    const dy = r.s === 'sub' ? size * 0.28 : r.s === 'sup' ? -size * 0.4 : 0;
    ctx.fillText(r.t, cx, dy);
    cx += ctx.measureText(r.t).width;
  }
  ctx.restore();
}

// Annotations inside the panels: [runs, x, y]
const NOTES: [Run[], number, number][] = [
  [[{ t: 'γ-ray (>200 MeV)' }], 133, 86],
  [[{ t: 'γ-ray photon index (>200 MeV)' }], 107, 273],
  [[{ t: 'X-ray (2-10 keV)' }], 133, 333],
  [[{ t: 'Optical, UV' }], 133, 455],
  [[{ t: '( ' }, { t: 'R', c: RED, it: true }, { t: ', ' }, { t: 'V', c: BLUE, it: true }, { t: ', ' }, { t: 'B', c: GREEN, it: true }, { t: ', ' }, { t: 'U', c: YELLOW, it: true }, { t: ', ' }, { t: 'W2', c: MAGENTA, it: true }, { t: ' bands)' }], 133, 471],
  [[{ t: 'Optical polarization degree' }], 134, 580],
  [[{ t: '(' }, { t: 'V', c: PD_BLUE, it: true }, { t: ', ' }, { t: 'no filter', c: CYAN }, { t: ')' }], 134, 596],
  [[{ t: 'Optical polarization angle' }], 134, 711],
  [[{ t: '(' }, { t: 'V', c: PD_BLUE, it: true }, { t: ', ' }, { t: 'no filter', c: CYAN }, { t: ')' }], 134, 727],
  [[{ t: 'Near Infrared' }], 135, 818],
  [[{ t: '(' }, { t: 'Ks', c: RED, it: true }, { t: ', ' }, { t: 'K', c: MAGENTA, it: true }, { t: ', ' }, { t: 'H', c: GREEN, it: true }, { t: ', ' }, { t: 'J', c: NAVY, it: true }, { t: ' bands)' }], 135, 833],
  [[{ t: 'Radio (' }, { t: '5', c: YELLOW }, { t: ', ' }, { t: '15', c: BLUE }, { t: ', ' }, { t: '37', c: GREEN }, { t: ', ' }, { t: '230', c: MAGENTA }, { t: ' GHz)' }], 95, 1002],
];

// Large band labels: [text, colour, x, baseline]
const BAND_LABELS: [string, string, number, number][] = [
  ['Gamma-ray', '#ff0000', 78, 82],
  ['(Fermi)', '#ff0000', 78, 132],
  ['X-ray', '#000000', 92, 383],
  ['Optical', '#000000', 93, 510],
  ['Opt-Polarization', SLIDE_BLUE, 77, 632],
  ['Opt Pol PA', SLIDE_BLUE, 93, 768],
  ['NIR', '#000000', 108, 889],
  ['Radio', '#000000', 108, 999],
];

const decorPlugin = {
  id: 'panelDecor',
  beforeDatasetsDraw(chart: any) {
    const ctx: CanvasRenderingContext2D = chart.ctx;
    const xs = chart.scales.x;
    const { left, right, top, bottom } = chart.chartArea;

    // flare markers
    ctx.save();
    ctx.strokeStyle = '#333';
    ctx.lineWidth = 1.4;
    ctx.setLineDash([2.5, 3]);
    for (const m of flareMarks) {
      const px = Math.round(xs.getPixelForValue(m)) + 0.5;
      ctx.beginPath();
      ctx.moveTo(px, top);
      ctx.lineTo(px, bottom);
      ctx.stroke();
    }
    // EVPA +-180 deg reference lines
    const yf = chart.scales.yf;
    ctx.setLineDash([15, 7]);
    ctx.lineWidth = 1.6;
    ctx.strokeStyle = '#3c3c3c';
    for (const v of evpaRefLines) {
      const py = yf.getPixelForValue(v);
      ctx.beginPath();
      ctx.moveTo(left, py);
      ctx.lineTo(right, py);
      ctx.stroke();
    }
    ctx.restore();

    // vertical error bars
    chart.data.datasets.forEach((ds: any) => {
      if (!ds.errWidth) return;
      const ys = chart.scales[ds.yAxisID];
      ctx.save();
      ctx.beginPath();
      ctx.rect(left, ys.top, right - left, ys.bottom - ys.top);
      ctx.clip();
      ctx.strokeStyle = ds.backgroundColor;
      ctx.lineWidth = ds.errWidth;
      ds.data.forEach((p: any, j: number) => {
        const e = ds.errors[j];
        if (!e) return;
        const px = xs.getPixelForValue(p.x);
        ctx.beginPath();
        ctx.moveTo(px, ys.getPixelForValue(p.y - e));
        ctx.lineTo(px, ys.getPixelForValue(p.y + e));
        ctx.stroke();
      });
      ctx.restore();
    });
  },
  afterDatasetsDraw(chart: any) {
    const ctx: CanvasRenderingContext2D = chart.ctx;
    const xs = chart.scales.x;
    const { left, right, top, bottom } = chart.chartArea;
    const scales = PANELS.map((p) => chart.scales[p.id]);
    const bounds = [scales[0].top, ...scales.map((s: any) => s.bottom)];

    ctx.save();
    ctx.strokeStyle = FRAME;
    ctx.lineCap = 'butt';

    // x ticks on every panel boundary
    ctx.lineWidth = 1.6;
    for (let v = 650; v <= 1000; v += 10) {
      const px = xs.getPixelForValue(v);
      const len = v % 50 === 0 ? 6 : 4;
      bounds.forEach((b: number, i: number) => {
        const up = i === 0 ? 0 : len;
        const down = i === bounds.length - 1 ? 0 : len;
        ctx.beginPath();
        ctx.moveTo(px, b - up);
        ctx.lineTo(px, b + down);
        ctx.stroke();
      });
    }

    // y ticks on both spines
    PANELS.forEach((p, i) => {
      const s = scales[i];
      const start = Math.ceil(p.min / p.minor - 1e-6);
      const end = Math.floor(p.max / p.minor + 1e-6);
      for (let k = start; k <= end; k++) {
        const v = k * p.minor;
        const py = s.getPixelForValue(v);
        if (py < s.top + 1 || py > s.bottom - 1) continue;
        const isMajor = p.major.some((m) => Math.abs(m - v) < 1e-6);
        ctx.lineWidth = 1.6;
        ctx.beginPath();
        ctx.moveTo(left - (isMajor ? 5 : 2.5), py);
        ctx.lineTo(left + (isMajor ? 7 : 4), py);
        ctx.moveTo(right - (isMajor ? 7 : 4), py);
        ctx.lineTo(right, py);
        ctx.stroke();
      }
    });

    // frame
    ctx.lineWidth = 3;
    bounds.forEach((b: number) => {
      ctx.beginPath();
      ctx.moveTo(left - 1.5, b);
      ctx.lineTo(right + 1.2, b);
      ctx.stroke();
    });
    ctx.beginPath();
    ctx.moveTo(left, top - 1.5);
    ctx.lineTo(left, bottom + 1.5);
    ctx.stroke();
    ctx.lineWidth = 2.4;
    ctx.beginPath();
    ctx.moveTo(right, top - 1.5);
    ctx.lineTo(right, bottom + 1.5);
    ctx.stroke();

    // year boundary tick on the top axis
    ctx.lineWidth = 3;
    const yb = xs.getPixelForValue(yearBoundary);
    ctx.beginPath();
    ctx.moveTo(yb, top - 9);
    ctx.lineTo(yb, top + 7);
    ctx.stroke();
    ctx.restore();

    // y tick labels, titles and panel letters
    PANELS.forEach((p, i) => {
      const s = scales[i];
      p.major.forEach((v, k) => {
        drawRuns(ctx, [{ t: p.labels[k] }], 52, s.getPixelForValue(v) + 4.6, 13, { sx: 1.1, align: 'right', color: GREY });
      });
      ctx.save();
      ctx.translate(19, (s.top + s.bottom) / 2);
      ctx.rotate(-Math.PI / 2);
      drawRuns(ctx, p.title, 0, 4.5, 13, { align: 'center', color: GREY });
      ctx.restore();
      drawRuns(ctx, [{ t: p.letter }], 71, s.top + 19, 15, { weight: 'bold', color: '#111' });
    });

    // bottom axis
    xTickValues.forEach((v, k) => {
      drawRuns(ctx, [{ t: xTickLabels[k] }], xs.getPixelForValue(v), bottom + 16.5, 13, { sx: 1.15, align: 'center', color: GREY });
    });
    drawRuns(ctx, [{ t: '[MJD - 54,000]' }], (left + right) / 2, bottom + 33, 13, { sx: 1.15, align: 'center', color: GREY });

    // top calendar axis
    monthNames.forEach((m, k) => {
      drawRuns(ctx, [{ t: m }], xs.getPixelForValue(monthCenters[k]), 33, 12.5, { align: 'center', color: GREY });
    });
    yearNames.forEach((y, k) => {
      drawRuns(ctx, [{ t: y }], xs.getPixelForValue(yearCenters[k]), 20.5, 14.5, { sx: 1.1, align: 'center', color: '#333' });
    });

    // annotations
    for (const [runs, x, y] of NOTES) drawRuns(ctx, runs, x, y, 13, { sx: 1.18 });

    // large band labels
    for (const [t, c, x, y] of BAND_LABELS) drawRuns(ctx, [{ t }], x, y, 42, { weight: 'bold', color: c });
  },
};

export default function App() {
  const ref = useRef<HTMLCanvasElement>(null);

  useEffect(() => {
    const canvas = ref.current;
    if (!canvas) return;

    const datasets = SERIES.map((s) => ({
      data: s.data.map((p) => ({ x: p[0], y: p[1] })),
      errors: s.data.map((p) => p[2] ?? 0),
      errWidth: s.ew ?? 0,
      yAxisID: s.panel,
      xAxisID: 'x',
      backgroundColor: s.color,
      borderColor: s.color,
      pointBackgroundColor: s.color,
      pointBorderWidth: 0,
      borderWidth: 0,
      pointRadius: s.r,
      pointHoverRadius: s.r,
      clip: false,
    }));

    const scales: any = {
      x: {
        type: 'linear', position: 'bottom', min: 650, max: 1000,
        grid: { display: false }, border: { display: false }, ticks: { display: false },
        afterFit: (sc: any) => { sc.height = 39; },
      },
    };
    // stacked panels: the first one in the stack sits at the bottom
    [...PANELS].reverse().forEach((p) => {
      scales[p.id] = {
        type: 'linear', position: 'left', stack: 'panels', stackWeight: p.weight,
        min: p.min, max: p.max,
        grid: { display: false }, border: { display: false }, ticks: { display: false },
        afterFit: (sc: any) => { sc.width = 57; },
      };
    });

    const chart = new Chart(canvas, {
      type: 'scatter',
      data: { datasets: datasets as any },
      options: {
        responsive: false,
        animation: false,
        devicePixelRatio: 1,
        events: [],
        layout: { padding: { top: 38, right: 20.5, left: 0, bottom: 0 } },
        plugins: { legend: { display: false }, tooltip: { enabled: false } },
        scales,
      },
      plugins: [decorPlugin],
    });
    return () => chart.destroy();
  }, []);

  return (
    <div style={{ position: 'absolute', left: 0, top: 0, width: 808, height: 1053, background: '#ffffff' }}>
      <canvas ref={ref} width={808} height={1053} style={{ display: 'block' }} />
    </div>
  );
}
